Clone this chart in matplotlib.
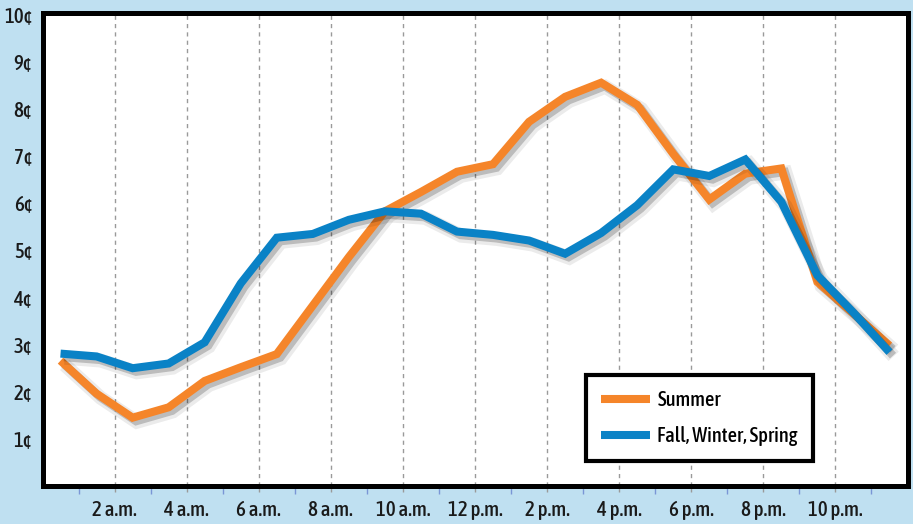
import matplotlib
matplotlib.use('Agg')
import matplotlib.pyplot as plt
import matplotlib.patheffects as pe
import matplotlib.font_manager as fm
import numpy as np

# half-hour positions of the data points
hours = np.arange(24) + 0.5

summer = [2.66, 1.96, 1.45, 1.67, 2.23, 2.52, 2.80, 3.83, 4.86, 5.83, 6.24, 6.67,
          6.83, 7.73, 8.26, 8.56, 8.09, 7.05, 6.08, 6.63, 6.74, 4.33, 3.66, 2.98]
fws = [2.81, 2.75, 2.50, 2.60, 3.05, 4.30, 5.27, 5.35, 5.65, 5.83, 5.78, 5.40,
       5.33, 5.21, 4.93, 5.37, 5.96, 6.72, 6.58, 6.93, 6.03, 4.47, 3.68, 2.84]

xticks = [2, 4, 6, 8, 10, 12, 14, 16, 18, 20, 22]
xlabels = ['2 a.m.', '4 a.m.', '6 a.m.', '8 a.m.', '10 a.m.', '12 p.m.',
           '2 p.m.', '4 p.m.', '6 p.m.', '8 p.m.', '10 p.m.']
yticks = [1, 2, 3, 4, 5, 6, 7, 8, 9, 10]
ylabels = [str(v) + '¢' for v in yticks]

# look for a narrow font, the reference uses a condensed face
fam = 'DejaVu Sans'
stretch = 'normal'
weight = 'normal'
narrow = [f for f in fm.fontManager.ttflist
          if ('Narrow' in f.name or 'Condensed' in f.name
              or f.stretch in ('condensed', 'semi-condensed', 'extra-condensed'))
          and f.style == 'normal']
rank = {'semi-condensed': 0, 'condensed': 1, 'extra-condensed': 3, 'ultra-condensed': 4}


def wnum(f):
    return f.weight if isinstance(f.weight, int) else 400


if narrow:
    pick = sorted(narrow, key=lambda f: (rank.get(f.stretch, 2), abs(wnum(f) - 500)))[0]
    fam = pick.name
    stretch = pick.stretch
    weight = wnum(pick)
plt.rcParams['font.family'] = [fam, 'DejaVu Sans']
plt.rcParams['font.stretch'] = stretch
plt.rcParams['font.weight'] = weight
small = fam == 'DejaVu Sans'

bg = '#bfe0f1'
orange = '#f5852a'
blue = '#0a82c6'

fig = plt.figure(figsize=(9.13, 5.24), dpi=100, facecolor=bg)
ax = fig.add_axes([42.5 / 913, 1 - 486 / 524, 865 / 913, 473.5 / 524])
ax.set_facecolor('white')

shadow = [pe.SimpleLineShadow(offset=(3, -3), shadow_color='k', alpha=0.08, linewidth=10),
          pe.SimpleLineShadow(offset=(2.5, -2.5), shadow_color='k', alpha=0.2, linewidth=6),
          pe.Normal()]

ax.plot(hours, summer, color=orange, lw=5.8, solid_joinstyle='miter',
        solid_capstyle='butt', label='Summer', path_effects=shadow, zorder=3)
ax.plot(hours, fws, color=blue, lw=5.8, solid_joinstyle='miter',
        solid_capstyle='butt', label='Fall, Winter, Spring', path_effects=shadow, zorder=4)

ax.set_xlim(0, 24)
ax.set_ylim(0, 10.05)

for x in xticks:
    ax.axvline(x, color='#9a9a9a', lw=1, ls=(0, (3, 3)), zorder=1)

fs = 11 if small else 15
ax.set_xticks(xticks)
ax.set_xticklabels(xlabels, fontsize=fs, color='#1a1a1a')
ax.set_xticks(np.arange(1, 24, 2), minor=True)
ax.tick_params(axis='x', which='major', length=4, width=1, color='#9a9a9a', pad=6)
ax.tick_params(axis='x', which='minor', length=6, width=1, color='#7a96d6')
ax.set_yticks(yticks)
ax.set_yticklabels(ylabels, fontsize=(11 if small else 15), color='#1a1a1a')
ax.tick_params(axis='y', length=0, pad=(6 if small else 8))

for s in ax.spines.values():
    s.set_linewidth(3.6)
    s.set_color('black')

lfs = 12 if small else 14.8
leg = ax.legend(loc='upper left', bbox_to_anchor=(586 / 913, 1 - 375 / 524),
                bbox_transform=fig.transFigure, fontsize=lfs,
                frameon=True, fancybox=False, framealpha=1, edgecolor='black',
                handlelength=2.4, handletextpad=0.35, borderpad=0.72,
                labelspacing=0.8, borderaxespad=0)
leg.get_frame().set_linewidth(3)
for line in leg.get_lines():
    line.set_path_effects([pe.Normal()])
    line.set_linewidth(5.8)

fig.savefig('out.png', dpi=100, facecolor=bg)
